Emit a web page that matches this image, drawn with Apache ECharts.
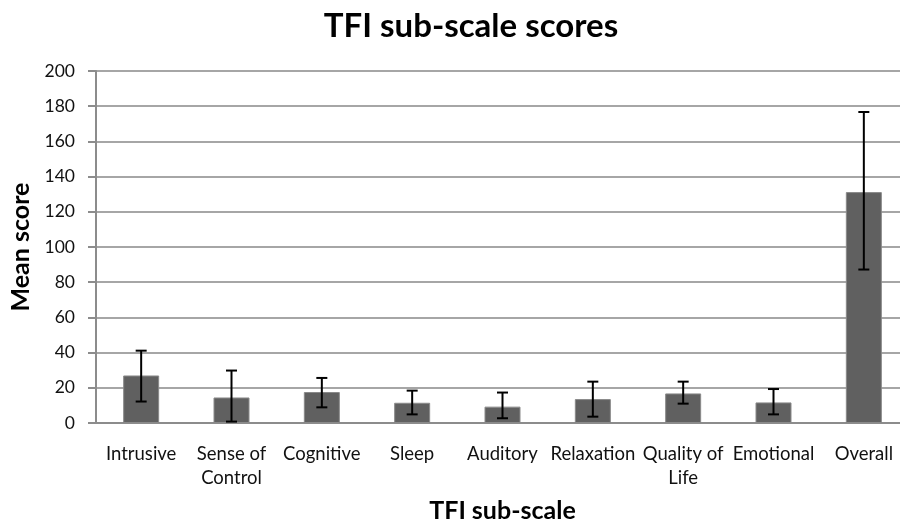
<!DOCTYPE html>
<html>
<head>
<meta charset="utf-8">
<script src="https://cdn.jsdelivr.net/npm/echarts@6/dist/echarts.min.js"></script>
<style>
  html, body { margin: 0; padding: 0; background: #fff; }
  #main { width: 900px; height: 527px; }
</style>
</head>
<body>
<div id="main"></div>
<script>
// TFI sub-scale means with error bar ends
var categories = ['Intrusive', 'Sense of\nControl', 'Cognitive', 'Sleep', 'Auditory', 'Relaxation', 'Quality of\nLife', 'Emotional', 'Overall'];
var means = [27, 14.5, 17.6, 11.5, 9.3, 13.6, 16.8, 11.7, 131.2];
var errLow = [12.2, 0.8, 8.9, 4.9, 2.7, 3.6, 11, 4.9, 87.2];
var errHigh = [41.1, 29.8, 25.6, 18.4, 17.3, 23.5, 23.5, 19.3, 176.7];
var yTicks = [0, 200, 20];

var errData = categories.map(function (c, i) { return [i, errLow[i], errHigh[i]]; });

var font = 'Lato, "Open Sans", sans-serif';
var myChart = echarts.init(document.getElementById('main'));
myChart.setOption({
  animation: false,
  title: {
    text: 'TFI sub-scale scores',
    left: 466, top: 5, textAlign: 'center',
    textStyle: { fontFamily: font, fontWeight: 'bold', fontSize: 33, color: '#000' }
  },
  grid: { left: 96, right: -9, top: 71, bottom: 104, containLabel: false, outerBoundsMode: 'none' },
  xAxis: {
    type: 'category',
    data: categories,
    name: 'TFI sub-scale',
    nameLocation: 'middle',
    nameGap: 75,
    nameTextStyle: { fontFamily: font, fontWeight: 'bold', fontSize: 25, color: '#000' },
    axisLine: { lineStyle: { color: '#8c8c8c', width: 2 } },
    axisTick: { show: false },
    axisLabel: { interval: 0, margin: 19, fontFamily: font, fontSize: 18.5, color: '#111', lineHeight: 24 }
  },
  yAxis: {
    type: 'value',
    min: yTicks[0], max: yTicks[1], interval: yTicks[2],
    name: 'Mean score',
    nameLocation: 'middle',
    nameGap: 61,
    nameRotate: 90,
    nameTextStyle: { fontFamily: font, fontWeight: 'bold', fontSize: 25, color: '#000' },
    axisLine: { show: true, lineStyle: { color: '#8c8c8c', width: 2 } },
    axisTick: { show: true, length: 8, lineStyle: { color: '#8c8c8c', width: 2 } },
    axisLabel: { margin: 21, fontFamily: font, fontSize: 17.5, color: '#111' },
    splitLine: { lineStyle: { color: '#a6a6a6', width: 2 } }
  },
  series: [
    {
      type: 'bar',
      data: means,
      barWidth: 36,
      itemStyle: { color: '#606060', borderColor: '#8a8a8a', borderWidth: 1 }
    },
    {
      type: 'custom',
      data: errData,
      z: 10,
      renderItem: function (params, api) {
        var x = api.value(0);
        var lo = api.coord([x, api.value(1)]);
        var hi = api.coord([x, api.value(2)]);
        var half = 5.5;
        var style = { stroke: '#000', lineWidth: 2 };
        return {
          type: 'group',
          children: [
            { type: 'line', shape: { x1: hi[0], y1: hi[1], x2: lo[0], y2: lo[1] }, style: style },
            { type: 'line', shape: { x1: hi[0] - half, y1: hi[1], x2: hi[0] + half, y2: hi[1] }, style: style },
            { type: 'line', shape: { x1: lo[0] - half, y1: lo[1], x2: lo[0] + half, y2: lo[1] }, style: style }
          ]
        };
      }
    }
  ]
});
</script>
</body>
</html>
